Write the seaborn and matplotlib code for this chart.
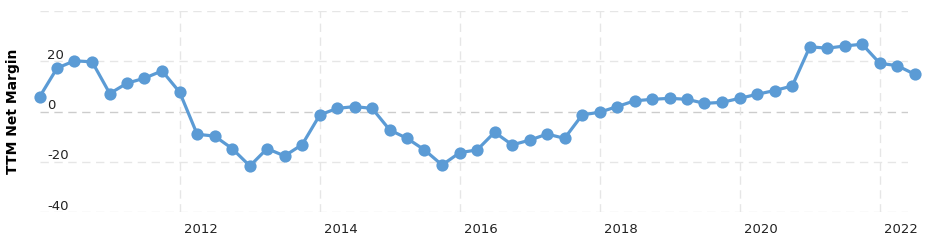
import matplotlib
matplotlib.use("Agg")
import matplotlib.pyplot as plt
from matplotlib.transforms import ScaledTranslation
import pandas as pd
import seaborn as sns

# Quarter-end dates (Dec 2009 .. Jun 2022)
dates = pd.date_range("2009-12-31", "2022-06-30", freq="QE")
margin = [6.0, 17.3, 20.2, 19.8, 7.2, 11.3, 13.3, 16.2, 7.7,
          -9.0, -9.7, -14.7, -21.6, -14.7, -17.6, -13.1, -1.3,
          1.3, 2.0, 1.3, -7.3, -10.6, -15.2, -21.2, -16.3,
          -15.2, -8.2, -13.2, -11.3, -8.9, -10.6, -1.3, -0.2,
          2.0, 4.3, 4.9, 5.3, 4.9, 3.3, 3.7, 5.3,
          6.9, 8.4, 10.2, 25.8, 25.2, 26.1, 26.8, 19.2,
          18.3, 14.9]
y_ticks = [-40, -20, 0, 20]
x_tick_years = [2012, 2014, 2016, 2018, 2020, 2022]

df = pd.DataFrame({"date": dates, "TTM Net Margin": margin})

sns.set_style("white")
plt.rcParams["font.family"] = ["DejaVu Sans"]

fig = plt.figure(figsize=(9.46, 2.48), dpi=100)
ax = fig.add_axes([40 / 946, 1 - 212.3 / 248, 868 / 946, (212.3 - 11) / 248])

color = "#5b9bd5"
sns.lineplot(data=df, x="date", y="TTM Net Margin", ax=ax, color=color,
             linewidth=2.3, marker="o", markersize=8.8, markeredgewidth=0,
             clip_on=False, zorder=5)

ax.set_xlim(pd.Timestamp("2010-01-01"), pd.Timestamp("2022-05-27"))
ax.set_ylim(-40, 40)

xt = [pd.Timestamp(f"{y}-01-01") for y in x_tick_years]
ax.set_xticks(xt)
ax.set_xticklabels([str(y) for y in x_tick_years])
ax.set_yticks(y_ticks + [40])
ax.set_yticklabels([str(v) for v in y_ticks] + [""])

for v in y_ticks + [40]:
    ax.axhline(v, color="#cccccc" if v == 0 else "#e6e6e6",
               linewidth=1.0, linestyle=(0, (6, 4)), zorder=1)
for d in xt:
    ax.axvline(d, color="#e6e6e6", linewidth=1.0, linestyle=(0, (6, 4)), zorder=1)

for s in ax.spines.values():
    s.set_visible(False)

ax.tick_params(axis="both", length=0, labelsize=9.5, colors="#222222")
ax.tick_params(axis="y", pad=-5)
for lab in ax.get_yticklabels():
    lab.set_horizontalalignment("left")
    lab.set_transform(lab.get_transform() + ScaledTranslation(0, 0.075, fig.dpi_scale_trans))
ax.tick_params(axis="x", pad=8)
for lab in ax.get_xticklabels():
    lab.set_transform(lab.get_transform() + ScaledTranslation(0.21, 0, fig.dpi_scale_trans))

ax.set_xlabel("")
ax.set_ylabel("TTM Net Margin", fontsize=10, fontweight="bold", color="black")
ax.yaxis.set_label_coords(-20 / 868, 0.5)

fig.savefig("out.png", dpi=100)
